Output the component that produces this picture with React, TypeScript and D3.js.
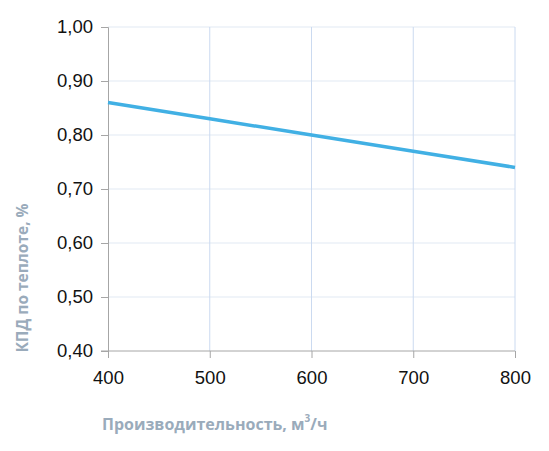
import * as d3 from "d3";
import { useEffect, useRef } from "react";

const airflow = [400, 500, 600, 700, 800];
const efficiency = [0.86, 0.83, 0.8, 0.77, 0.74];
const yTicks = [0.4, 0.5, 0.6, 0.7, 0.8, 0.9, 1.0];
const xTitle = "Производительность, м";
const yTitle = "КПД по теплоте, %";

const W = 549;
const H = 451;
const tickFont = "'Liberation Sans', Arial, sans-serif";
const titleFont = "'Open Sans', 'DejaVu Sans', sans-serif";

export default function App() {
  const svgRef = useRef<SVGSVGElement>(null);

  useEffect(() => {
    if (!svgRef.current) return;
    const svg = d3.select(svgRef.current);
    svg.selectAll("*").remove();

    const x = d3.scaleLinear().domain([400, 800]).range([108, 515]);
    const y = d3.scaleLinear().domain([0.4, 1.0]).range([351, 27]);

    // horizontal gridlines
    svg
      .append("g")
      .selectAll("line")
      .data(yTicks.slice(1))
      .enter()
      .append("line")
      .attr("x1", x(400))
      .attr("x2", x(800))
      .attr("y1", (d) => y(d))
      .attr("y2", (d) => y(d))
      .attr("stroke", "#ebf0f7")
      .attr("stroke-width", 1.5);

    // vertical gridlines
    svg
      .append("g")
      .selectAll("line")
      .data(airflow.slice(1))
      .enter()
      .append("line")
      .attr("x1", (d) => x(d))
      .attr("x2", (d) => x(d))
      .attr("y1", y(1.0))
      .attr("y2", y(0.4))
      .attr("stroke", "#cbdaf0")
      .attr("stroke-width", 1);

    // y axis
    const yAxis = d3
      .axisLeft(y)
      .tickValues(yTicks)
      .tickSize(7)
      .tickPadding(8)
      .tickFormat((d) => d3.format(".2f")(d as number).replace(".", ","));
    const gy = svg.append("g").attr("transform", `translate(${x(400)},0)`).call(yAxis);
    gy.select(".domain").attr("stroke", "#a6a6a6");
    gy.selectAll(".tick line").attr("stroke", "#a6a6a6");
    gy.selectAll(".tick text")
      .attr("fill", "#111")
      .style("font-size", "18.5px")
      .style("font-family", tickFont);

    // x axis
    const xAxis = d3.axisBottom(x).tickValues(airflow).tickSize(7).tickPadding(13);
    const gx = svg.append("g").attr("transform", `translate(0,${y(0.4)})`).call(xAxis);
    gx.select(".domain").attr("stroke", "#a6a6a6").attr("d", `M${x(400) - 7},0H${x(800)}`);
    gx.selectAll(".tick line").attr("stroke", "#a6a6a6");
    gx.selectAll(".tick text")
      .attr("fill", "#111")
      .style("font-size", "18.5px")
      .style("font-family", tickFont);

    // data line
    const line = d3
      .line<number>()
      .x((d, i) => x(airflow[i]))
      .y((d) => y(d));
    svg
      .append("path")
      .datum(efficiency)
      .attr("d", line)
      .attr("fill", "none")
      .attr("stroke", "#41b0e4")
      .attr("stroke-width", 3.5);

    // axis titles
    const xt = svg
      .append("text")
      .attr("x", 102)
      .attr("y", 430)
      .style("font-family", titleFont)
      .style("font-size", "16px")
      .style("font-weight", "bold")
      .attr("fill", "#9aabbb")
      .text(xTitle);
    xt.append("tspan").attr("dy", -8).style("font-size", "10px").text("3");
    xt.append("tspan").attr("dy", 8).text("/ч");

    svg
      .append("text")
      .attr("transform", `translate(28,278) rotate(-90)`)
      .attr("text-anchor", "middle")
      .style("font-family", titleFont)
      .style("font-size", "15.5px")
      .style("font-weight", "bold")
      .attr("fill", "#9aabbb")
      .text(yTitle);
  }, []);

  return (
    <svg
      ref={svgRef}
      width={W}
      height={H}
      style={{ position: "absolute", left: 0, top: 0, background: "#fff" }}
    />
  );
}
